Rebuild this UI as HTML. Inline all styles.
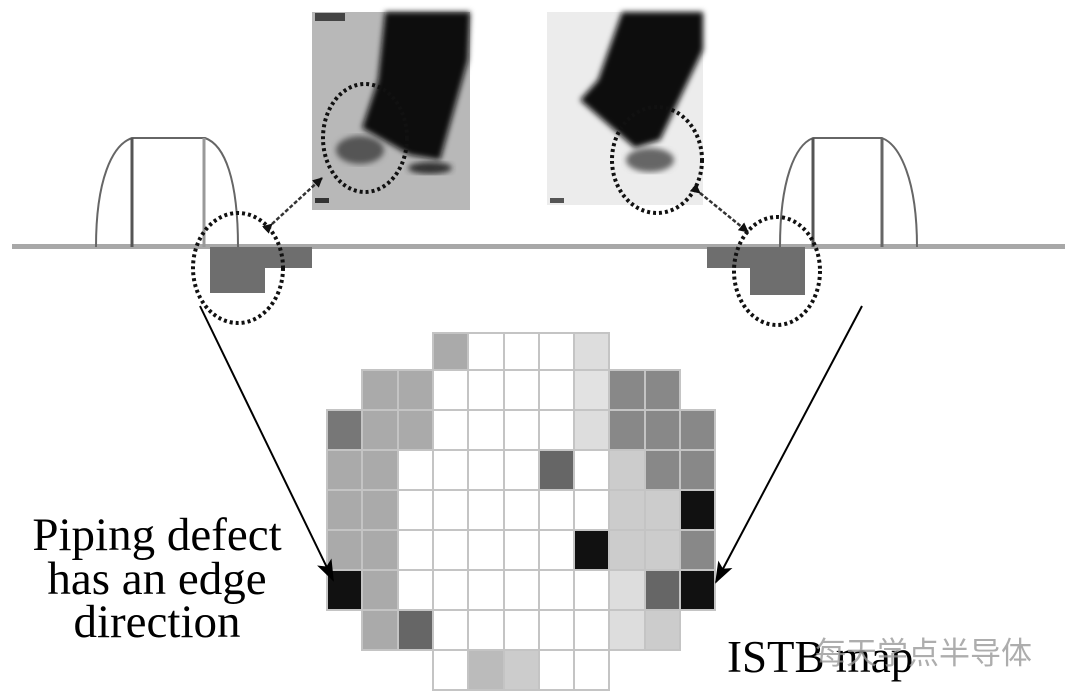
<!DOCTYPE html>
<html><head><meta charset="utf-8"><style>
html,body{margin:0;padding:0;background:#fff;width:1080px;height:700px;overflow:hidden}
</style></head><body>
<svg width="1080" height="700" viewBox="0 0 1080 700" xmlns="http://www.w3.org/2000/svg">
<defs>
<marker id="ah" markerWidth="10" markerHeight="10" refX="9" refY="5" orient="auto" markerUnits="userSpaceOnUse"><path d="M0,0 L10,5 L0,10 z" fill="#111"/></marker>
<marker id="big" markerWidth="22" markerHeight="34" refX="20" refY="8" orient="auto" markerUnits="userSpaceOnUse" viewBox="0 0 22 16"><path d="M0,0 L22,8 L0,16 L5,8 z" fill="#000"/></marker>
<filter id="bl"><feGaussianBlur stdDeviation="3"/></filter>
</defs>
<!-- left photo -->
<rect x="312" y="12" width="158" height="198" fill="#b8b8b8"/>
<polygon points="385,12 470,12 468,60 440,160 410,155 362,128 378,80" fill="#0c0c0c" filter="url(#bl)"/>
<ellipse cx="360" cy="150" rx="24" ry="14" fill="#555" filter="url(#bl)"/>
<ellipse cx="430" cy="168" rx="22" ry="6" fill="#333" filter="url(#bl)"/>
<rect x="315" y="13" width="30" height="8" fill="#444"/>
<rect x="315" y="198" width="14" height="5" fill="#333"/>
<!-- right photo -->
<rect x="547" y="12" width="156" height="193" fill="#ececec"/>
<polygon points="622,12 703,12 703,50 660,140 635,148 580,100 598,80" fill="#0a0a0a" filter="url(#bl)"/>
<ellipse cx="650" cy="160" rx="24" ry="12" fill="#666" filter="url(#bl)"/>
<rect x="550" y="198" width="14" height="5" fill="#555"/>
<!-- photo ellipses -->
<ellipse cx="365" cy="138" rx="42" ry="54" fill="none" stroke="#111" stroke-width="4" stroke-dasharray="3,3"/>
<ellipse cx="657" cy="160" rx="45" ry="53" fill="none" stroke="#111" stroke-width="4" stroke-dasharray="3,3"/>
<!-- baseline -->
<rect x="12" y="244" width="1053" height="5" fill="#a8a8a8"/>
<!-- left device -->
<path d="M96,247 C96,180 112,145 132,138 L205,138 C225,145 238,180 238,247" fill="none" stroke="#666" stroke-width="2"/>
<line x1="132" y1="138" x2="132" y2="247" stroke="#555" stroke-width="3"/>
<line x1="204" y1="138" x2="204" y2="247" stroke="#999" stroke-width="3"/>
<rect x="210" y="247" width="55" height="46" fill="#6e6e6e"/>
<rect x="265" y="247" width="47" height="21" fill="#6e6e6e"/>
<ellipse cx="238" cy="268" rx="45" ry="55" fill="none" stroke="#111" stroke-width="4" stroke-dasharray="3,3"/>
<!-- right device -->
<path d="M780,247 C780,180 795,145 813,138 L882,138 C900,145 917,180 917,247" fill="none" stroke="#666" stroke-width="2"/>
<line x1="813" y1="138" x2="813" y2="247" stroke="#555" stroke-width="3"/>
<line x1="882" y1="138" x2="882" y2="247" stroke="#666" stroke-width="3"/>
<rect x="707" y="247" width="98" height="21" fill="#6e6e6e"/>
<rect x="750" y="247" width="55" height="48" fill="#6e6e6e"/>
<ellipse cx="777" cy="271" rx="43" ry="54" fill="none" stroke="#111" stroke-width="4" stroke-dasharray="3,3"/>
<!-- double arrows -->
<line x1="272" y1="224" x2="322" y2="178" stroke="#333" stroke-width="2.5" stroke-dasharray="4,2" marker-end="url(#ah)" marker-start="url(#ah)"/>
<line x1="700" y1="193" x2="748" y2="232" stroke="#333" stroke-width="2.5" stroke-dasharray="4,2" marker-end="url(#ah)" marker-start="url(#ah)"/>
<!-- grid -->
<g id="grid" stroke="#c4c4c4" stroke-width="2">
</g>
<!-- long arrows -->
<line x1="200" y1="306" x2="333" y2="580" stroke="#000" stroke-width="2" marker-end="url(#big)"/>
<line x1="862" y1="306" x2="716" y2="582" stroke="#000" stroke-width="2" marker-end="url(#big)"/>
<g font-family="Liberation Serif, serif" font-size="47" fill="#000" text-anchor="middle">
<text x="157" y="550">Piping defect</text>
<text x="157" y="594">has an edge</text>
<text x="157" y="637">direction</text>
</g>
<text x="727" y="672" font-family="Liberation Serif, serif" font-size="45" fill="#000">ISTB map</text>
<text x="815" y="664" font-family="Liberation Sans, 'Noto Sans CJK SC', sans-serif" font-size="31" fill="#999" opacity="0.8">每天学点半导体</text>
</svg>
<script>
var X=[327,362,398,433,468,504,539,574,609,645,680,715];
var Y=[333,370,410,450,490,530,570,610,650,690];
var W='#fff';
var rows=[
[3,['#aaa',W,W,W,'#ddd']],
[1,['#aaa','#aaa',W,W,W,W,'#e2e2e2','#888','#888']],
[0,['#777','#aaa','#aaa',W,W,W,W,'#ddd','#888','#888','#888']],
[0,['#aaa','#aaa',W,W,W,W,'#666',W,'#ccc','#888','#888']],
[0,['#aaa','#aaa',W,W,W,W,W,W,'#ccc','#ccc','#111']],
[0,['#aaa','#aaa',W,W,W,W,W,'#111','#ccc','#ccc','#888']],
[0,['#111','#aaa',W,W,W,W,W,W,'#ddd','#666','#111']],
[1,['#aaa','#666',W,W,W,W,W,'#ddd','#ccc']],
[3,[W,'#bbb','#ccc',W,W]]
];
var g=document.getElementById('grid'),ns='http://www.w3.org/2000/svg';
rows.forEach(function(r,i){r[1].forEach(function(c,j){var k=r[0]+j;var e=document.createElementNS(ns,'rect');
e.setAttribute('x',X[k]);e.setAttribute('y',Y[i]);e.setAttribute('width',X[k+1]-X[k]);e.setAttribute('height',Y[i+1]-Y[i]);e.setAttribute('fill',c);g.appendChild(e);});});
</script>
</body></html>
